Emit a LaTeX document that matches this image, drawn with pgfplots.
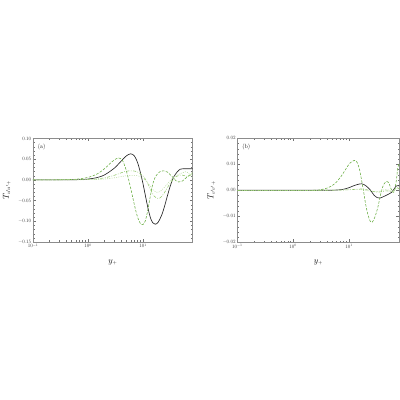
\documentclass[border=0pt]{standalone}
\usepackage{pgfplots}
\pgfplotsset{compat=1.18}

\definecolor{gdark}{RGB}{100,170,60}
\definecolor{gmid}{RGB}{145,198,105}
\definecolor{glight}{RGB}{185,220,160}

\pgfplotsset{
  tpanel/.style={
    scale only axis,
    anchor=south west,
    xmin=0.1, xmax=80,
    xtick={0.1,1,10},
    xticklabels={$10^{-1}$,$10^{0}$,$10^{1}$},
    tick align=inside,
    major tick length=6pt,
    minor tick length=3.5pt,
    minor y tick num=4,
    axis line style={black!45, line width=0.8pt},
    every tick/.style={black!55, line width=0.7pt},
    tick label style={font=\fontsize{10}{11}\selectfont, black!80},
    yticklabel style={/pgf/number format/.cd, fixed, fixed zerofill, precision=2},
    scaled y ticks=false,
    xlabel={$y_+$},
    label style={font=\fontsize{16}{19}\selectfont},
    xlabel style={at={(axis description cs:0.5,-0.15)}, anchor=north},
    every axis plot/.append style={line width=1.1pt, smooth},
  },
  blk/.style={black!85, line width=1.3pt},
  gd/.style={gdark, dash pattern=on 5pt off 3pt},
  gm/.style={gmid, dash pattern=on 6pt off 3pt on 1.5pt off 3pt},
  gl/.style={glight, dash pattern=on 2pt off 2.5pt},
}

\begin{document}
\begin{tikzpicture}
\useasboundingbox (0,0) rectangle (800pt,800pt);

% panel (a)
\begin{semilogxaxis}[tpanel,
  at={(66pt,316pt)}, width=319pt, height=207pt,
  ymin=-0.15, ymax=0.10,
  ytick={-0.15,-0.10,-0.05,0,0.05,0.10},
  ylabel={$T_{u'u'+}$},
  ylabel style={at={(axis description cs:-0.165,0.5)}, anchor=center},
]
\addplot[blk] coordinates {
 (0.1,0) (0.5,0.0002) (1,0.002) (1.5,0.006) (2,0.012) (3,0.028) (4,0.045)
 (5,0.058) (6,0.063) (7,0.058) (8,0.042) (9,0.018) (10,-0.008) (11,-0.035)
 (12,-0.06) (13,-0.08) (14,-0.095) (15,-0.103) (17,-0.107) (19,-0.102)
 (22,-0.085) (25,-0.062) (28,-0.038) (32,-0.012) (36,0.006) (42,0.019)
 (48,0.026) (55,0.027) (80,0.027)};
\addplot[gd] coordinates {
 (0.1,0) (0.5,0.001) (1,0.006) (1.5,0.015) (2,0.027) (2.5,0.039) (3,0.048)
 (3.6,0.053) (4.2,0.048) (4.8,0.03) (5.4,0.005) (6,-0.02) (7,-0.06) (8,-0.09)
 (9,-0.105) (10,-0.108) (11,-0.1) (12,-0.08) (13,-0.055) (14,-0.032)
 (15,-0.012) (17,0.008) (20,0.019) (24,0.022) (28,0.019) (34,0.008)
 (40,-0.002) (45,-0.005) (52,-0.003) (60,0.004) (70,0.011) (80,0.015)};
\addplot[gm] coordinates {
 (0.1,0) (1,0.001) (2,0.005) (3,0.011) (4,0.017) (5,0.021) (6.5,0.022)
 (8,0.019) (10,0.01) (12,-0.006) (14,-0.025) (16,-0.039) (19,-0.045)
 (22,-0.04) (26,-0.026) (30,-0.012) (36,0.002) (42,0.009) (50,0.012)
 (58,0.01) (66,0.008) (74,0.012) (80,0.02)};
\addplot[gl] coordinates {
 (0.1,0) (1,0.0005) (2,0.002) (3,0.005) (4,0.008) (5,0.01) (7,0.011)
 (9,0.008) (11,0) (13,-0.012) (15,-0.023) (18,-0.03) (21,-0.027)
 (25,-0.017) (30,-0.005) (36,0.006) (44,0.013) (52,0.017) (62,0.02)
 (70,0.014) (80,0.006)};
\node[anchor=north west, font=\fontsize{12}{14}\selectfont]
  at (axis description cs:0.02,0.96) {(a)};
\end{semilogxaxis}

% panel (b)
\begin{semilogxaxis}[tpanel,
  at={(474.6pt,315.4pt)}, width=324pt, height=208pt,
  ymin=-0.02, ymax=0.02,
  ytick={-0.02,-0.01,0,0.01,0.02},
  ylabel={$T_{v'v'+}$},
  ylabel style={at={(axis description cs:-0.16,0.5)}, anchor=center},
]
\addplot[blk] coordinates {
 (0.1,0) (3,0) (6,0.0001) (8,0.0004) (10,0.001) (12,0.0017) (14,0.0022)
 (17,0.0025) (20,0.0018) (24,0.0002) (28,-0.0018) (32,-0.0028) (36,-0.003)
 (42,-0.0024) (50,-0.0016) (58,-0.0008) (64,0.0004) (70,0.0016)
 (75,0.0018) (80,0.0017)};
\addplot[gd] coordinates {
 (0.1,0) (2,0) (3,0.0002) (4,0.0008) (5,0.0018) (6,0.0032) (7.5,0.0058)
 (9,0.0085) (10.5,0.0105) (12.5,0.0115) (14,0.0108) (15.5,0.008)
 (17,0.0035) (18.5,-0.001) (20,-0.0055) (22,-0.0095) (24,-0.0118)
 (26,-0.0123) (29,-0.0105) (33,-0.0065) (38,-0.0005) (42,0.0022)
 (47,0.0034) (52,0.0028) (57,0.0005) (62,-0.0008) (66,0)
 (71,0.004) (75,0.0085) (80,0.0105)};
\addplot[gm] coordinates {
 (0.1,0) (3,0) (8,0.0001) (12,0.0003) (17,0.0005) (22,0.0001) (28,-0.0005)
 (34,-0.0007) (40,-0.0005) (46,-0.0002) (52,-0.0003) (58,-0.0006)
 (64,-0.0002) (70,0.0006) (75,0.0008) (80,0.0005)};
\addplot[gl] coordinates {
 (0.1,0) (3,0) (8,0.0002) (12,0.0004) (16,0.0003) (22,-0.0002) (28,-0.0006)
 (34,-0.0004) (40,0) (46,0.0003) (52,0.0001) (58,-0.0004) (64,0.0001)
 (70,0.0009) (80,0.0012)};
\node[anchor=north west, font=\fontsize{12}{14}\selectfont]
  at (axis description cs:0.02,0.96) {(b)};
\end{semilogxaxis}
\end{tikzpicture}
\end{document}
